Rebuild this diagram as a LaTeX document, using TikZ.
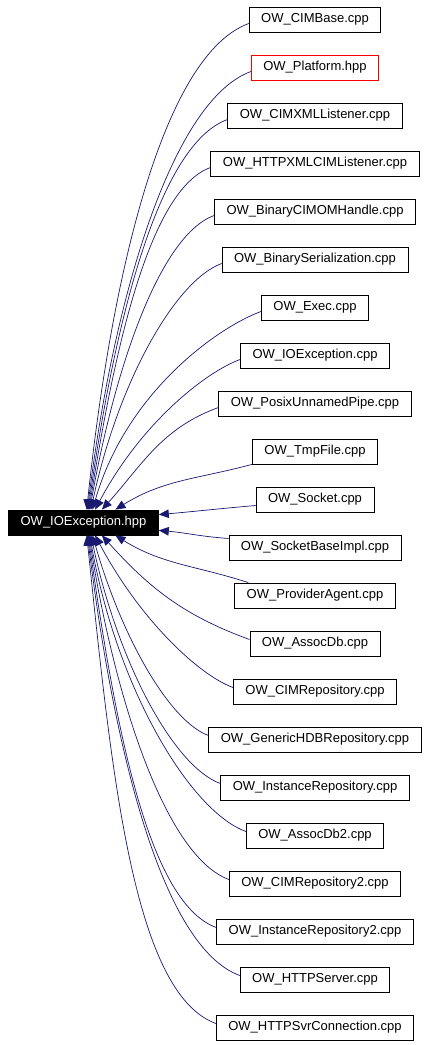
\documentclass[tikz,border=0pt]{standalone}
\usepackage{fontspec}
\setmainfont{Liberation Sans}
\usetikzlibrary{arrows.meta}
\definecolor{EdgeClr}{rgb}{0.098,0.098,0.439}
\definecolor{MissClr}{rgb}{1,0,0}

\begin{document}
\begin{tikzpicture}[x=1pt,y=1pt,
  file/.style={draw=black,fill=white,line width=0.8pt,minimum height=25pt,
    inner xsep=12pt,inner ysep=0pt,font=\fontsize{13}{15}\selectfont},
  rootfile/.style={file,fill=black,text=white},
  dep/.style={{Triangle[length=10pt,width=8.5pt]}-,draw=EdgeClr,fill=none,
    line width=0.7pt},
  far/.style={out looseness=1.2,in looseness=0.45}]
\useasboundingbox (0,0) rectangle (429,1045);

\node[rootfile] (IOExcHpp) at (83.5,522.5) {OW\_IOException.hpp};

\node[file] (CIMBase)      at (315,1025.5) {OW\_CIMBase.cpp};
\node[file,draw=MissClr] (Platform) at (315,977.5) {OW\_Platform.hpp};
\node[file] (XMLListener)  at (315,929.5) {OW\_CIMXMLListener.cpp};
\node[file] (HTTPListener) at (315,881.5) {OW\_HTTPXMLCIMListener.cpp};
\node[file] (BinHandle)    at (315,833.5) {OW\_BinaryCIMOMHandle.cpp};
\node[file] (BinSerial)    at (315,785.5) {OW\_BinarySerialization.cpp};
\node[file] (Exec)         at (315,737.5) {OW\_Exec.cpp};
\node[file] (IOExcCpp)     at (315,689.5) {OW\_IOException.cpp};
\node[file] (PosixPipe)    at (315,641.5) {OW\_PosixUnnamedPipe.cpp};
\node[file] (TmpFile)      at (315,593.5) {OW\_TmpFile.cpp};
\node[file] (Socket)       at (315,545.5) {OW\_Socket.cpp};
\node[file] (SockImpl)     at (315,497.5) {OW\_SocketBaseImpl.cpp};
\node[file] (ProvAgent)    at (315,449.5) {OW\_ProviderAgent.cpp};
\node[file] (AssocDb)      at (315,401.5) {OW\_AssocDb.cpp};
\node[file] (CIMRepo)      at (315,353.5) {OW\_CIMRepository.cpp};
\node[file] (HDBRepo)      at (315,305.5) {OW\_GenericHDBRepository.cpp};
\node[file] (InstRepo)     at (315,257.5) {OW\_InstanceRepository.cpp};
\node[file] (AssocDbTwo)   at (315,209.5) {OW\_AssocDb2.cpp};
\node[file] (CIMRepoTwo)   at (315,161.5) {OW\_CIMRepository2.cpp};
\node[file] (InstRepoTwo)  at (315,113.5) {OW\_InstanceRepository2.cpp};
\node[file] (HTTPServer)   at (315,65.5)  {OW\_HTTPServer.cpp};
\node[file] (HTTPConn)     at (315,17.5)  {OW\_HTTPSvrConnection.cpp};

% edges above the root
\draw[dep,far] (IOExcHpp.76) to[out=84,in=200] ([yshift=-4pt]CIMBase.west);
\draw[dep,far] (IOExcHpp.73) to[out=83,in=200] ([yshift=-4pt]Platform.west);
\draw[dep,far] (IOExcHpp.70) to[out=82,in=200] ([yshift=-4pt]XMLListener.west);
\draw[dep,far] (IOExcHpp.67) to[out=81,in=200] ([yshift=-4pt]HTTPListener.west);
\draw[dep,far] (IOExcHpp.64) to[out=80,in=200] ([yshift=-4pt]BinHandle.west);
\draw[dep,far] (IOExcHpp.60) to[out=78,in=200] ([yshift=-4pt]BinSerial.west);
\draw[dep,far] (IOExcHpp.55) to[out=74,in=200] ([yshift=-4pt]Exec.west);
\draw[dep,far] (IOExcHpp.48) to[out=62,in=200] ([yshift=-4pt]IOExcCpp.west);
\draw[dep] (IOExcHpp.35) to[out=48,in=200] ([yshift=-4pt]PosixPipe.west);
\draw[dep] (IOExcHpp.22) to[out=32,in=195] (TmpFile.south west);
\draw[dep] (IOExcHpp.6) to[out=5,in=185] ([yshift=-6pt]Socket.west);

% edges below the root
\draw[dep] (IOExcHpp.-6) to[out=-5,in=176] ([yshift=9pt]SockImpl.west);
\draw[dep] (IOExcHpp.-22) to[out=-32,in=162] ([xshift=14pt]ProvAgent.north west);
\draw[dep] (IOExcHpp.-35) to[out=-48,in=160] ([yshift=4pt]AssocDb.west);
\draw[dep,far] (IOExcHpp.-48) to[out=-62,in=160] ([yshift=4pt]CIMRepo.west);
\draw[dep,far] (IOExcHpp.-55) to[out=-74,in=160] ([yshift=4pt]HDBRepo.west);
\draw[dep,far] (IOExcHpp.-60) to[out=-78,in=160] ([yshift=4pt]InstRepo.west);
\draw[dep,far] (IOExcHpp.-64) to[out=-80,in=160] ([yshift=4pt]AssocDbTwo.west);
\draw[dep,far] (IOExcHpp.-67) to[out=-81,in=160] ([yshift=4pt]CIMRepoTwo.west);
\draw[dep,far] (IOExcHpp.-70) to[out=-82,in=160] ([yshift=4pt]InstRepoTwo.west);
\draw[dep,far] (IOExcHpp.-73) to[out=-83,in=160] ([yshift=4pt]HTTPServer.west);
\draw[dep,far] (IOExcHpp.-76) to[out=-84,in=160] ([yshift=4pt]HTTPConn.west);

\end{tikzpicture}
\end{document}
